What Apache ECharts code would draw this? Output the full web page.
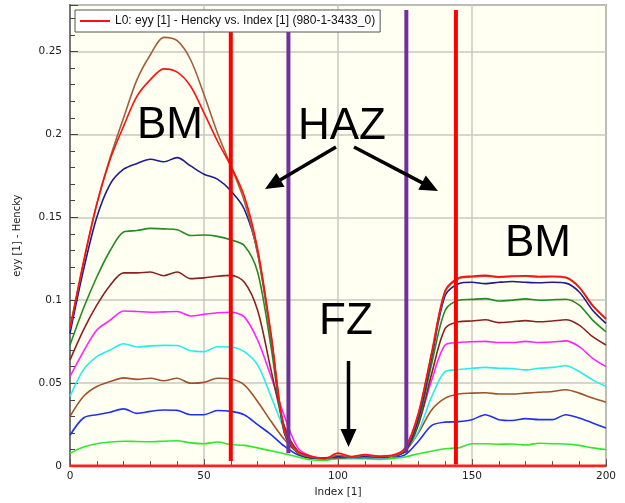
<!DOCTYPE html>
<html>
<head>
<meta charset="utf-8">
<script src="https://cdn.jsdelivr.net/npm/echarts@6/dist/echarts.min.js"></script>
<style>
  html, body { margin: 0; padding: 0; background: #fff; }
  #main { width: 625px; height: 503px; }
</style>
</head>
<body>
<div id="main"></div>
<script>
// Index positions (x axis)
var xIndex = [0, 5, 10, 15, 20, 25, 30, 35, 40, 45, 50, 55, 60, 65, 70, 75, 80, 85, 90, 95,
  100, 105, 110, 115, 120, 125, 130, 135, 140, 145, 150, 155, 160, 165, 170, 175, 180, 185, 190, 195, 200];

// eyy [1] - Hencky per curve
var redL0 = [0.083, 0.123, 0.158, 0.185, 0.205, 0.223, 0.233, 0.2395, 0.2375, 0.229, 0.213, 0.196, 0.181, 0.163, 0.131, 0.080, 0.022, 0.009, 0.006, 0.0045,
  0.0078, 0.0058, 0.007, 0.006, 0.0065, 0.011, 0.032, 0.069, 0.106, 0.1135, 0.1145, 0.115, 0.1142, 0.1146, 0.1148, 0.1143, 0.1145, 0.1138, 0.108, 0.097, 0.089];
var brownTop = [0.083, 0.122, 0.158, 0.186, 0.210, 0.233, 0.248, 0.2585, 0.2565, 0.245, 0.224, 0.201, 0.181, 0.160, 0.128, 0.078, 0.021, 0.008, 0.0055, 0.0045,
  0.0065, 0.0055, 0.0065, 0.0058, 0.006, 0.010, 0.031, 0.068, 0.105, 0.113, 0.114, 0.1145, 0.1138, 0.1143, 0.1145, 0.114, 0.1142, 0.1135, 0.1075, 0.0965, 0.0885];
var navy = [0.080, 0.118, 0.150, 0.170, 0.179, 0.1825, 0.185, 0.1835, 0.186, 0.181, 0.176, 0.173, 0.166, 0.155, 0.129, 0.078, 0.020, 0.008, 0.005, 0.0048,
  0.0058, 0.0055, 0.006, 0.0055, 0.006, 0.009, 0.029, 0.066, 0.103, 0.110, 0.1108, 0.110, 0.1108, 0.1113, 0.1108, 0.1105, 0.1108, 0.1103, 0.105, 0.094, 0.086];
var green = [0.073, 0.095, 0.114, 0.130, 0.1412, 0.142, 0.1433, 0.143, 0.1425, 0.139, 0.1393, 0.1385, 0.1364, 0.133, 0.117, 0.072, 0.020, 0.008, 0.005, 0.0048,
  0.0055, 0.0055, 0.0058, 0.0055, 0.006, 0.009, 0.027, 0.062, 0.094, 0.100, 0.1005, 0.101, 0.0995, 0.100, 0.1008, 0.100, 0.1003, 0.1006, 0.097, 0.088, 0.081];
var maroon = [0.064, 0.082, 0.097, 0.109, 0.1165, 0.1165, 0.117, 0.1148, 0.117, 0.113, 0.1135, 0.1145, 0.115, 0.111, 0.094, 0.058, 0.024, 0.009, 0.005, 0.0048,
  0.0055, 0.0055, 0.0058, 0.0055, 0.006, 0.009, 0.025, 0.056, 0.083, 0.087, 0.0875, 0.0882, 0.0865, 0.087, 0.0877, 0.087, 0.0875, 0.0882, 0.085, 0.078, 0.073];
var magenta = [0.054, 0.069, 0.082, 0.088, 0.0935, 0.0932, 0.0928, 0.093, 0.0932, 0.0905, 0.0915, 0.0925, 0.0928, 0.090, 0.076, 0.054, 0.030, 0.011, 0.006, 0.005,
  0.0055, 0.0055, 0.006, 0.0055, 0.006, 0.009, 0.026, 0.052, 0.073, 0.0745, 0.075, 0.0752, 0.0745, 0.0745, 0.0752, 0.0745, 0.0748, 0.0755, 0.072, 0.065, 0.060];
var cyan = [0.042, 0.058, 0.066, 0.070, 0.0738, 0.0718, 0.0725, 0.0728, 0.0727, 0.0695, 0.069, 0.072, 0.0718, 0.069, 0.061, 0.042, 0.022, 0.009, 0.005, 0.0045,
  0.0055, 0.005, 0.0055, 0.005, 0.0055, 0.010, 0.021, 0.042, 0.057, 0.0582, 0.059, 0.0595, 0.059, 0.0588, 0.058, 0.059, 0.0595, 0.0605, 0.057, 0.052, 0.048];
var brown = [0.030, 0.042, 0.048, 0.051, 0.0532, 0.0523, 0.053, 0.0515, 0.053, 0.050, 0.0505, 0.053, 0.0525, 0.049, 0.039, 0.027, 0.016, 0.008, 0.005, 0.0045,
  0.005, 0.005, 0.0055, 0.005, 0.0055, 0.009, 0.020, 0.034, 0.041, 0.0435, 0.044, 0.0442, 0.0435, 0.0435, 0.044, 0.0445, 0.045, 0.046, 0.044, 0.041, 0.0385];
var blue = [0.0186, 0.029, 0.031, 0.0325, 0.0345, 0.0318, 0.033, 0.0338, 0.0336, 0.031, 0.031, 0.0335, 0.033, 0.031, 0.025, 0.019, 0.012, 0.0068, 0.005, 0.0045,
  0.005, 0.005, 0.0052, 0.005, 0.0055, 0.0068, 0.015, 0.0245, 0.0265, 0.0268, 0.028, 0.031, 0.028, 0.0275, 0.0286, 0.028, 0.028, 0.031, 0.029, 0.026, 0.023];
var lime = [0.0077, 0.0115, 0.0135, 0.0145, 0.015, 0.0148, 0.0147, 0.015, 0.0153, 0.014, 0.0135, 0.0145, 0.013, 0.0125, 0.011, 0.0092, 0.0075, 0.0055, 0.0038, 0.0035,
  0.0045, 0.0045, 0.0045, 0.004, 0.0045, 0.0055, 0.0075, 0.009, 0.0105, 0.011, 0.0135, 0.0135, 0.0132, 0.0133, 0.0127, 0.0138, 0.0135, 0.0133, 0.0125, 0.011, 0.010];

// zone boundary markers (index position, bottom, top)
var markerX = [60, 81.5, 125.5, 144];
var markerBottom = [0.003, 0.0077, 0.0077, 0.001];
var markerTop = 0.275;

var legendName = 'L0: eyy [1] - Hencky vs. Index [1] (980-1-3433_0)';

var curves = [
  { name: 'c9', data: lime, color: '#2ee82e' },
  { name: 'c8', data: blue, color: '#2030f0' },
  { name: 'c7', data: brown, color: '#a0522d' },
  { name: 'c6', data: cyan, color: '#22eeee' },
  { name: 'c5', data: magenta, color: '#ff22ff' },
  { name: 'c4', data: maroon, color: '#8b2222' },
  { name: 'c3', data: green, color: '#228b22' },
  { name: 'c2', data: navy, color: '#1c1c8c' },
  { name: 'c1', data: brownTop, color: '#a0603a' },
  { name: legendName, data: redL0, color: '#ff1010' }
];

var series = curves.map(function (c) {
  return {
    name: c.name,
    type: 'line',
    smooth: 0.3,
    symbol: 'none',
    data: xIndex.map(function (x, i) { return [x, c.data[i]]; }),
    lineStyle: { color: c.color, width: 1.6 },
    itemStyle: { color: c.color },
    z: 2
  };
});

var markerColor = ['#ff0000', '#7030a0', '#7030a0', '#ff0000'];
markerX.forEach(function (x, i) {
  series.push({
    name: 'm' + i,
    type: 'line',
    symbol: 'none',
    data: [[x, markerBottom[i]], [x, markerTop]],
    lineStyle: { color: markerColor[i], width: 4 },
    z: 3
  });
});

// red base line along 0
series.push({
  name: 'base',
  type: 'line',
  symbol: 'none',
  data: [[0, 0], [200, 0]],
  lineStyle: { color: '#ff2020', width: 3 },
  z: 4
});

function arrow(x1, y1, x2, y2) {
  var dx = x2 - x1, dy = y2 - y1;
  var len = Math.sqrt(dx * dx + dy * dy);
  var ux = dx / len, uy = dy / len;
  var head = 18, half = 8;
  var bx = x2 - ux * head, by = y2 - uy * head;
  return [
    { type: 'line', shape: { x1: x1, y1: y1, x2: bx + ux * 2, y2: by + uy * 2 },
      style: { stroke: '#000', lineWidth: 3.5 }, z: 100 },
    { type: 'polygon', shape: { points: [[x2, y2], [bx - uy * half, by + ux * half], [bx + uy * half, by - ux * half]] },
      style: { fill: '#000' }, z: 100 }
  ];
}

function label(text, x, y) {
  return { type: 'text', x: x, y: y, z: 100,
    style: { text: text, fill: '#000', font: '44px "Liberation Sans", Arial, sans-serif',
      textAlign: 'left', textVerticalAlign: 'middle' } };
}

var graphics = [
  label('BM', 137, 126),
  label('HAZ', 298, 127),
  label('FZ', 319, 322),
  label('BM', 505, 244)
].concat(arrow(336, 147, 265, 189), arrow(354, 147, 438, 191), arrow(348.5, 361, 348.5, 447));

var chart = echarts.init(document.getElementById('main'), null, { renderer: 'canvas' });
chart.setOption({
  animation: false,
  backgroundColor: '#ffffff',
  grid: { left: 70, right: 19, top: 5, bottom: 30, show: true,
    backgroundColor: '#fffff2', borderColor: '#9a9a9a', borderWidth: 2 },
  legend: {
    data: [{ name: legendName, icon: 'rect' }],
    left: 75, top: 10,
    itemWidth: 30, itemHeight: 2, itemGap: 4,
    padding: [5, 5, 5, 5],
    backgroundColor: '#ffffff', borderColor: '#555', borderWidth: 1,
    textStyle: { fontFamily: '"Liberation Sans", Arial, sans-serif', fontSize: 12, color: '#111' }
  },
  xAxis: {
    type: 'value', min: 0, max: 200, interval: 50,
    name: 'Index [1]', nameLocation: 'middle', nameGap: 18,
    nameTextStyle: { fontFamily: '"DejaVu Sans", sans-serif', fontSize: 10.5, color: '#222' },
    axisLine: { show: true, lineStyle: { color: '#777', width: 2 } },
    axisTick: { show: true, inside: true, length: 7, lineStyle: { color: '#555' } },
    minorTick: { show: true, splitNumber: 5, length: 5, lineStyle: { color: '#555' } },
    axisLabel: { fontFamily: '"DejaVu Sans", sans-serif', fontSize: 10.5, color: '#222', margin: 5 },
    splitLine: { show: true, lineStyle: { color: '#c8c8c0', width: 1.5 } }
  },
  yAxis: {
    type: 'value', min: 0, max: 0.278, interval: 0.05,
    name: 'eyy [1] - Hencky', nameLocation: 'middle', nameGap: 48,
    nameTextStyle: { fontFamily: '"DejaVu Sans", sans-serif', fontSize: 10, color: '#222' },
    axisLine: { show: true, lineStyle: { color: '#777', width: 2 } },
    axisTick: { show: true, inside: true, length: 8, lineStyle: { color: '#444' } },
    minorTick: { show: true, splitNumber: 5, length: 5, lineStyle: { color: '#444' } },
    axisLabel: { fontFamily: '"DejaVu Sans", sans-serif', fontSize: 10.5, color: '#222', margin: 8,
      showMaxLabel: false,
      formatter: function (v) { return String(+v.toFixed(2)); } },
    splitLine: { show: true, lineStyle: { color: '#c8c8c0', width: 1.5 } }
  },
  graphic: graphics,
  series: series
});
</script>
</body>
</html>
